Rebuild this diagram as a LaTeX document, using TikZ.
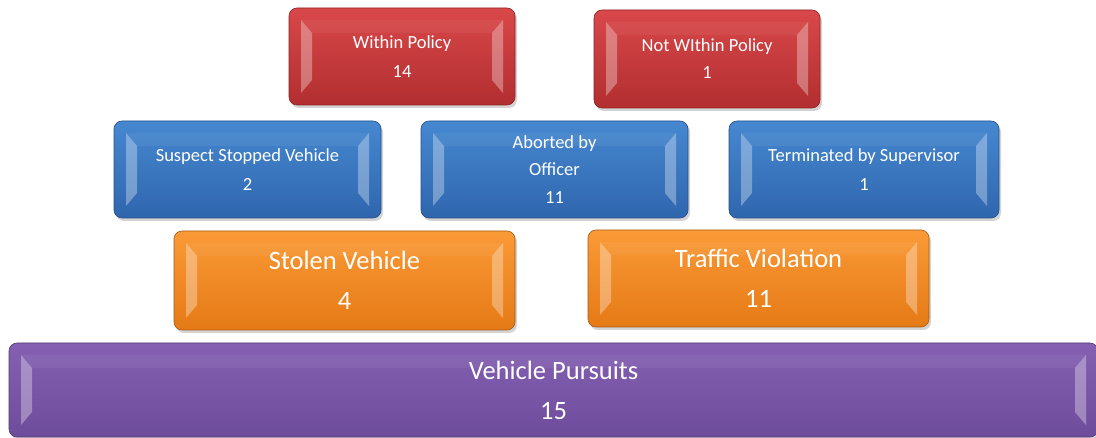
\documentclass[tikz,border=0pt]{standalone}
\usepackage{fontspec}
\setmainfont{Carlito}
\usetikzlibrary{shadows,calc}
\definecolor{redT}{HTML}{D9484A}
\definecolor{redB}{HTML}{B22E30}
\definecolor{redD}{HTML}{8E2223}
\definecolor{bluT}{HTML}{4688D0}
\definecolor{bluB}{HTML}{2F66AE}
\definecolor{bluD}{HTML}{244F88}
\definecolor{ornT}{HTML}{FA9A36}
\definecolor{ornB}{HTML}{E57A16}
\definecolor{ornD}{HTML}{A85A12}
\definecolor{purT}{HTML}{8560B2}
\definecolor{purB}{HTML}{6E4C9C}
\definecolor{purD}{HTML}{523A75}
\tikzset{
  box/.style n args={3}{rounded corners=8pt, inner sep=0pt, align=center,
    text=white, top color=#1, bottom color=#2, draw=#3, line width=0.6pt,
    drop shadow={opacity=0.35, shadow xshift=2pt, shadow yshift=-3pt},
    path picture={
      \coordinate (pnw) at (path picture bounding box.north west);
      \coordinate (pse) at (path picture bounding box.south east);
      \coordinate (pne) at (path picture bounding box.north east);
      \coordinate (psw) at (path picture bounding box.south west);
      \fill[sharp corners, white, opacity=0.32] ($(pnw)+(12pt,-12pt)$) -- ($(pnw)+(23pt,-25pt)$)
        -- ($(psw)+(23pt,25pt)$) -- ($(psw)+(12pt,12pt)$) -- cycle;
      \fill[sharp corners, white, opacity=0.32] ($(pne)+(-12pt,-12pt)$) -- ($(pne)+(-23pt,-25pt)$)
        -- ($(pse)+(-23pt,25pt)$) -- ($(pse)+(-12pt,12pt)$) -- cycle;
      \fill[sharp corners, white, opacity=0.05] ($(pnw)+(12pt,-12pt)$) -- ($(pne)+(-12pt,-12pt)$)
        -- ($(pne)+(-23pt,-25pt)$) -- ($(pnw)+(23pt,-25pt)$) -- cycle;
    }},
  redbox/.style={box={redT}{redB}{redD}},
  bluebox/.style={box={bluT}{bluB}{bluD}},
  orangebox/.style={box={ornT}{ornB}{ornD}},
  purplebox/.style={box={purT}{purB}{purD}},
  small/.style={font=\fontsize{18.5}{28.5}\selectfont},
  large/.style={font=\fontsize{26.5}{40}\selectfont}
}
\begin{document}
\begin{tikzpicture}[x=1pt,y=-1pt]
\useasboundingbox (0,0) rectangle (1096,438);
\node[redbox, small, minimum width=226pt, minimum height=97pt] (within) at (402,56.5) {Within Policy\\14};
\node[redbox, small, minimum width=226pt, minimum height=98pt] (notwithin) at (707,59) {Not WIthin Policy\\[-1.5pt]1};
\node[bluebox, small, minimum width=267pt, minimum height=97pt] (suspect) at (247.5,169.5) {Suspect Stopped Vehicle\\2};
\node[bluebox, small, minimum width=267pt, minimum height=97pt, font=\fontsize{18.5}{27.5}\selectfont] (aborted) at (554.5,169.5) {Aborted by\\Officer\\11};
\node[bluebox, small, minimum width=270pt, minimum height=97pt] (terminated) at (864,169.5) {Terminated by Supervisor\\1};
\node[orangebox, large, minimum width=341pt, minimum height=99pt] (stolen) at (344.5,280.5) {Stolen Vehicle\\4};
\node[orangebox, large, minimum width=341pt, minimum height=97pt] (traffic) at (758.5,278.5) {Traffic Violation\\11};
\node[purplebox, large, minimum width=1089pt, minimum height=94pt] (pursuits) at (553.5,390) {Vehicle Pursuits\\15};
\end{tikzpicture}
\end{document}
